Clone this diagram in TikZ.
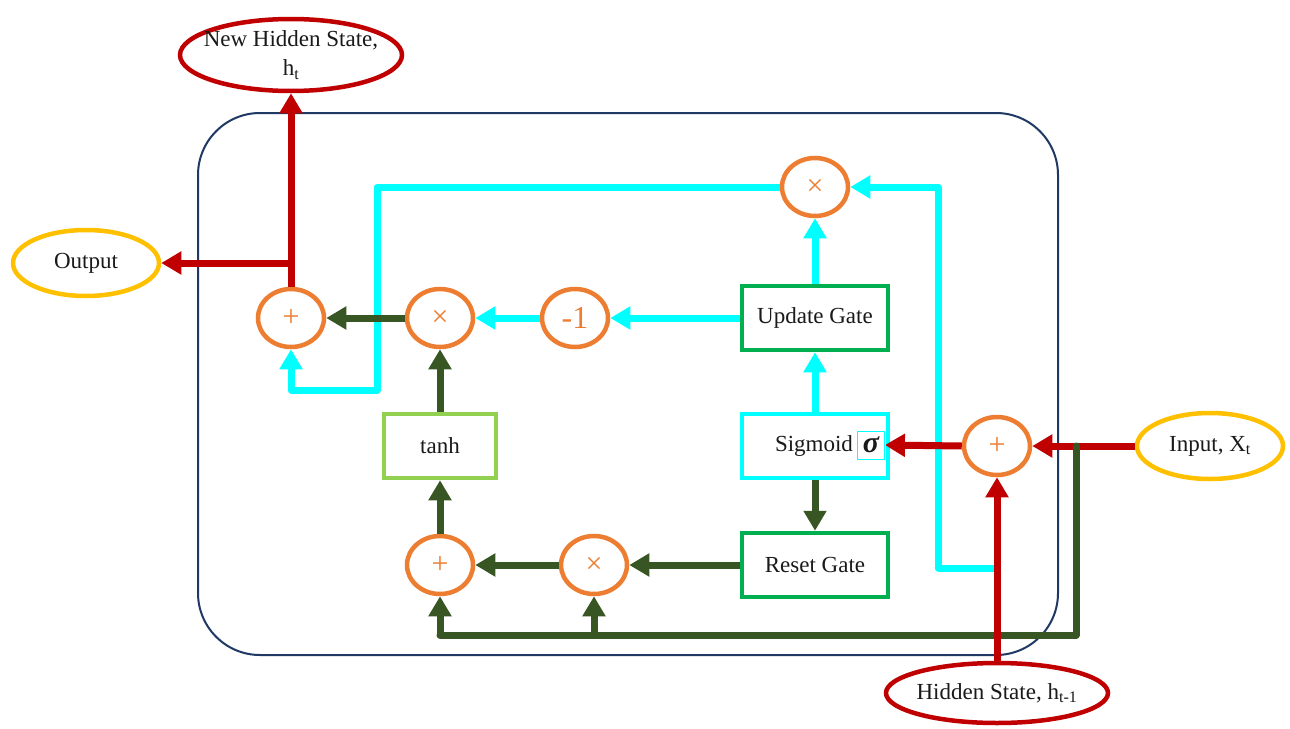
\documentclass[tikz,border=0pt]{standalone}
\usepackage{fontspec}
\setmainfont{Liberation Serif}
\usetikzlibrary{shapes.geometric,arrows.meta}
\definecolor{cred}{HTML}{C00000}
\definecolor{cgold}{HTML}{FFC000}
\definecolor{corange}{HTML}{ED7D31}
\definecolor{cgreen}{HTML}{00B050}
\definecolor{clgreen}{HTML}{92D050}
\definecolor{cdgreen}{HTML}{375623}
\definecolor{ccyan}{HTML}{00FFFF}
\definecolor{cnavy}{HTML}{1F3864}
\definecolor{ctext}{HTML}{1A1A1A}
\tikzset{
  txt/.style={text=ctext, font=\fontsize{23}{29}\selectfont, inner sep=0pt},
  oval/.style={ellipse, line width=4.5pt, inner sep=0pt},
  op/.style={ellipse, draw=corange, line width=4.5pt, minimum width=66pt, minimum height=58pt, inner sep=0pt, text=corange, font=\fontsize{30}{30}\selectfont},
  gatebox/.style={rectangle, line width=4.5pt, minimum width=146pt, minimum height=64pt, inner sep=0pt, text=ctext, font=\fontsize{23}{29}\selectfont},
  conn/.style={line width=7pt, line join=round, -{Triangle[length=20pt,width=22pt]}},
  plain/.style={line width=7pt, line join=round, line cap=round},
}
\begin{document}
\begin{tikzpicture}[x=1pt,y=-1pt]
\useasboundingbox[fill=white] (0,0) rectangle (1290,728);
% outer cell
\draw[cnavy, line width=2pt, rounded corners=62pt] (198,113) rectangle (1058,655);
% terminals
\node[oval, draw=cred, minimum width=222pt, minimum height=72pt] (nh) at (291,55) {};
\node[txt, align=center] at (nh) {New Hidden State,\\h\textsubscript{t}};
\node[oval, draw=cgold, minimum width=146pt, minimum height=66pt] (out) at (86,263) {};
\node[txt] at (out) {Output};
\node[oval, draw=cgold, minimum width=146pt, minimum height=66pt] (in) at (1210,446) {};
\node[txt] at (in) {Input, X\textsubscript{t}};
\node[oval, draw=cred, minimum width=222pt, minimum height=60pt] (hs) at (997,693) {};
\node[txt] at (hs) {Hidden State, h\textsubscript{t-1}};
% operators
\node[op] (p1) at (291,318) {+};
\node[op] (m1) at (440,318) {×};
\node[op, font=\fontsize{32}{32}\selectfont] (neg) at (575,318) {-1};
\node[op] (mt) at (815,187) {×};
\node[op] (pr) at (997,446) {+};
\node[op] (p2) at (440,565) {+};
\node[op] (m2) at (594,565) {×};
% gates
\node[gatebox, draw=cgreen] (ug) at (815,318) {Update Gate};
\node[gatebox, draw=ccyan] (sg) at (815,446) {};
\node[txt] at (814,446) {Sigmoid};
\node[draw=ccyan, line width=0.8pt, inner sep=0pt, minimum width=27pt, minimum height=28pt, text=ctext, font=\fontsize{30}{30}\selectfont\bfseries\itshape] (sig) at (871,445) {σ};
\node[gatebox, draw=cgreen] (rg) at (815,565) {Reset Gate};
\node[gatebox, draw=clgreen, minimum width=112pt] (th) at (440,446) {tanh};
% helper coordinates
\coordinate (c1) at (377,390);
\coordinate (c2) at (997,568);
\coordinate (c3) at (938,568);
\coordinate (g1) at (1076,446);
\coordinate (g2) at (1076,635);
\coordinate (o1) at (291,263);
% cyan paths
\draw[conn, ccyan] (mt.west) -| (c1) -| (p1.south);
\draw[conn, ccyan] (c2) -- (c3) |- (mt.east);
\draw[conn, ccyan] (ug.north) -- (mt.south);
\draw[conn, ccyan] (sg.north) -- (ug.south);
\draw[conn, ccyan] (ug.west) -- (neg.east);
\draw[conn, ccyan] (neg.west) -- (m1.east);
% red paths
\draw[conn, cred] (in.west) -- (pr.east);
\draw[conn, cred] (pr.west) -- (sig.east);
% dark green paths
\draw[plain, cdgreen] (g1) -- (g2) -- (p2.south |- g2);
\draw[conn, cdgreen] (p2.south |- g2) -- (p2.south);
\draw[conn, cdgreen] (m2.south |- g2) -- (m2.south);
\draw[conn, cdgreen] (sg.south) -- (rg.north);
\draw[conn, cdgreen] (rg.west) -- (m2.east);
\draw[conn, cdgreen] (m2.west) -- (p2.east);
\draw[conn, cdgreen] (p2.north) -- (th.south);
\draw[conn, cdgreen] (th.north) -- (m1.south);
\draw[conn, cdgreen] (m1.west) -- (p1.east);
% red hidden-state and output paths
\draw[conn, cred] (hs.north) -- (pr.south);
\draw[conn, cred] (p1.north) -- (nh.south);
\draw[conn, cred] (o1) -- (out.east);
\end{tikzpicture}
\end{document}
